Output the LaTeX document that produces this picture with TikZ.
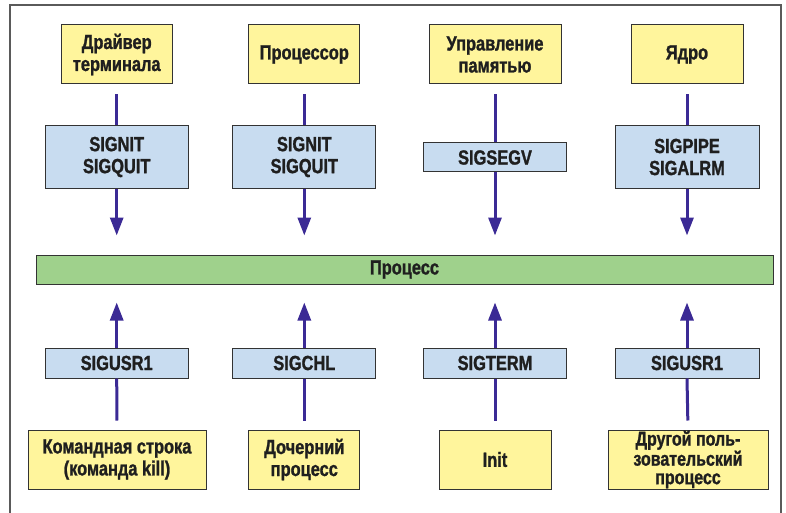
\documentclass[tikz,border=0pt]{standalone}
\usepackage{fontspec}
\newfontfamily\labelfont{Liberation Sans Bold}[FakeStretch=0.8, FakeBold=1.2]
\usetikzlibrary{arrows.meta}
\definecolor{srcyellow}{HTML}{FFF59C}
\definecolor{sigblue}{HTML}{C8DCF0}
\definecolor{procgreen}{HTML}{9FD18C}
\definecolor{arrowpurple}{HTML}{3B2A95}
\definecolor{edgegray}{HTML}{333333}
\definecolor{framegray}{HTML}{5A5A5A}
\begin{document}
\begin{tikzpicture}[x=1pt,y=-1pt,
  every node/.style={font=\labelfont\fontsize{20.5}{22}\selectfont, align=center,
    inner sep=0pt, text=black!88},
  srcbox/.style={draw=edgegray, line width=1pt, fill=srcyellow, minimum height=59},
  sigbox/.style={draw=edgegray, line width=1pt, fill=sigblue},
  procbar/.style={draw=edgegray, line width=1pt, fill=procgreen},
  sigline/.style={draw=arrowpurple, line width=3pt},
  sigarrow/.style={sigline, -{Triangle[width=13pt,length=18pt]}}
]
\useasboundingbox (0,0) rectangle (786,513);
% outer frame, open at the bottom
\draw[framegray, line width=2pt] (10,513) -- (10,5) -- (781,5) -- (781,513);

% signal sources, top row
\node[srcbox, minimum width=111] (t1) at (116.7,54.5) {Драйвер\\терминала};
\node[srcbox, minimum width=111] (t2) at (304.3,54.5) {Процессор};
\node[srcbox, minimum width=132] (t3) at (495,54.5) {Управление\\памятью};
\node[srcbox, minimum width=112] (t4) at (687,54.5) {Ядро};

% signals, top row
\node[sigbox, minimum width=143, minimum height=62] (s1) at (116.7,157) {SIGNIT\\SIGQUIT};
\node[sigbox, minimum width=143, minimum height=62] (s2) at (304.3,157) {SIGNIT\\SIGQUIT};
\node[sigbox, minimum width=143, minimum height=29] (s3) at (495,157.5) {SIGSEGV};
\node[sigbox, minimum width=144, minimum height=62] (s4) at (687,157) {SIGPIPE\\SIGALRM};

% the process
\node[procbar, minimum width=737, minimum height=29] (proc) at (404.5,269.5) {Процесс};

% signals, bottom row
\node[sigbox, minimum width=143, minimum height=30] (s5) at (116.7,363) {SIGUSR1};
\node[sigbox, minimum width=143, minimum height=30] (s6) at (304.3,363) {SIGCHL};
\node[sigbox, minimum width=143, minimum height=30] (s7) at (495,363) {SIGTERM};
\node[sigbox, minimum width=144, minimum height=30] (s8) at (687,363) {SIGUSR1};

% signal sources, bottom row
\node[srcbox, minimum width=178] (b1) at (117,459.5) {Командная строка\\(команда kill)};
\node[srcbox, minimum width=111] (b2) at (304.3,459.5) {Дочерний\\процесс};
\node[srcbox, minimum width=112] (b3) at (495,459.5) {Init};
\node[srcbox, minimum width=160,
  font=\labelfont\fontsize{20}{18.5}\selectfont] (b4) at (688,459.5)
  {Другой поль-\\зовательский\\процесс};

% top sources -> signals -> process
\foreach \i in {1,...,4}{
  \draw[sigline, shorten <=10pt] (t\i.south) -- (s\i.north);
  \draw[sigarrow, shorten >=19pt] (s\i.south) -- (s\i.south |- proc.north);
}
% bottom sources -> signals -> process
\foreach \i/\j in {1/5,2/6,3/7,4/8}{
  \draw[sigline, shorten <=9pt] (b\i.north) -- (s\j.south);
  \draw[sigarrow, shorten >=18pt] (s\j.north) -- (s\j.north |- proc.south);
}
\end{tikzpicture}
\end{document}
